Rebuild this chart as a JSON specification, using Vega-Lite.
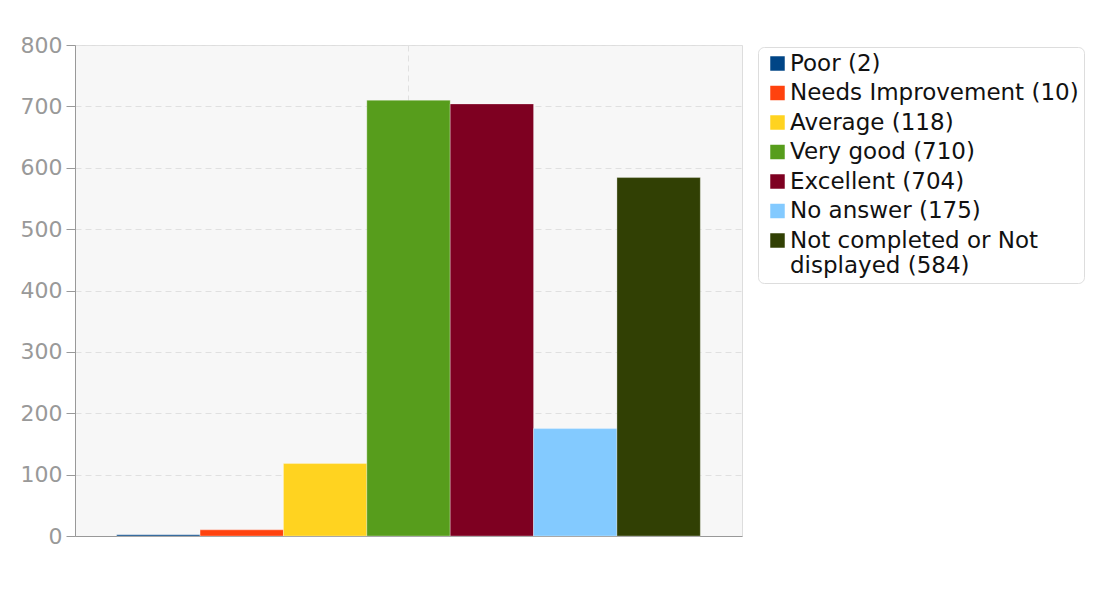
{
  "$schema": "https://vega.github.io/schema/vega-lite/v6.json",
  "autosize": {"type": "none"},
  "padding": {"left": 75, "top": 45, "right": 366, "bottom": 74},
  "width": 667,
  "height": 491,
  "background": "white",
  "config": {
    "view": {"fill": "#f7f7f7", "stroke": "#dddddd", "strokeWidth": 1},
    "font": "DejaVu Sans"
  },
  "data": {
    "values": [
      {"group": "all", "answer": "Poor", "count": 2, "label": "Poor (2)"},
      {"group": "all", "answer": "Needs Improvement", "count": 10, "label": "Needs Improvement (10)"},
      {"group": "all", "answer": "Average", "count": 118, "label": "Average (118)"},
      {"group": "all", "answer": "Very good", "count": 710, "label": "Very good (710)"},
      {"group": "all", "answer": "Excellent", "count": 704, "label": "Excellent (704)"},
      {"group": "all", "answer": "No answer", "count": 175, "label": "No answer (175)"},
      {"group": "all", "answer": "Not completed or Not displayed", "count": 584, "label": "Not completed or Not displayed (584)"}
    ]
  },
  "mark": {"type": "bar", "stroke": "white", "strokeOpacity": 0.3, "strokeWidth": 1},
  "encoding": {
    "x": {
      "field": "group",
      "type": "nominal",
      "scale": {"paddingInner": 0, "paddingOuter": 0},
      "axis": {
        "title": null,
        "labels": false,
        "ticks": false,
        "domain": true,
        "domainColor": "#999999",
        "grid": true,
        "gridDash": [6, 4],
        "gridColor": "#e0e0e0",
        "bandPosition": 0.5
      }
    },
    "xOffset": {
      "field": "label",
      "type": "nominal",
      "sort": ["Poor (2)", "Needs Improvement (10)", "Average (118)", "Very good (710)", "Excellent (704)", "No answer (175)", "Not completed or Not displayed (584)"],
      "scale": {"paddingInner": 0, "paddingOuter": 0.5}
    },
    "y": {
      "field": "count",
      "type": "quantitative",
      "scale": {"domain": [0, 800], "nice": false},
      "axis": {
        "title": null,
        "values": [0, 100, 200, 300, 400, 500, 600, 700, 800],
        "labelFontSize": 22,
        "labelColor": "#999999",
        "labelPadding": 4,
        "tickSize": 9,
        "tickColor": "#999999",
        "domainColor": "#999999",
        "gridColor": "#e0e0e0",
        "gridDash": [6, 4]
      }
    },
    "color": {
      "field": "label",
      "type": "nominal",
      "scale": {
        "domain": ["Poor (2)", "Needs Improvement (10)", "Average (118)", "Very good (710)", "Excellent (704)", "No answer (175)", "Not completed or Not displayed (584)"],
        "range": ["#004586", "#ff420e", "#ffd320", "#579d1c", "#7e0021", "#83caff", "#314004"]
      },
      "legend": {
        "title": null,
        "orient": "none",
        "legendX": 683,
        "legendY": 2,
        "symbolType": "square",
        "symbolSize": 210,
        "symbolStrokeWidth": 0,
        "symbolOffset": 3,
        "labelFontSize": 23,
        "labelColor": "#111111",
        "labelLimit": 400,
        "labelOffset": 1,
        "rowPadding": 5.5,
        "padding": 5,
        "fillColor": "white",
        "strokeColor": "#dddddd",
        "cornerRadius": 6,
        "labelExpr": "datum.label == 'Not completed or Not displayed (584)' ? ['Not completed or Not', 'displayed (584)'] : datum.label"
      }
    }
  }
}
